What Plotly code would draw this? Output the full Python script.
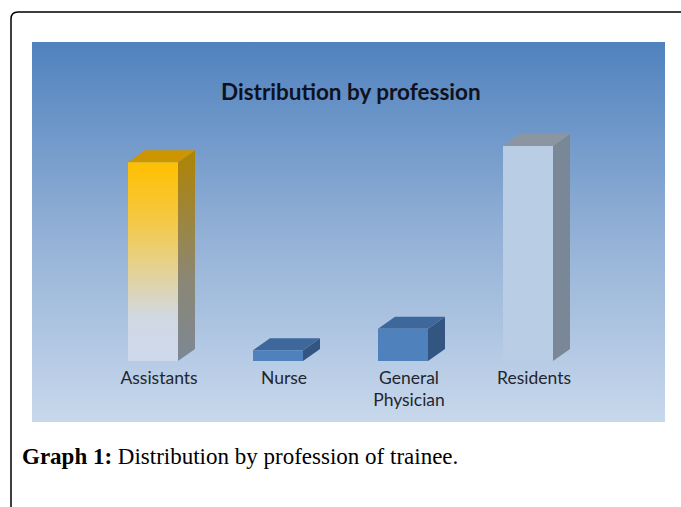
import plotly.graph_objects as go

# ---- data ----
categories = ["Assistants", "Nurse", "General Physician", "Residents"]
tick_labels = ["Assistants", "Nurse", "General<br>Physician", "Residents"]
values = [37, 2, 6, 40]

W, H = 681, 507
def px(x):  # pixel -> paper x
    return x / W
def py(y):  # pixel -> paper y
    return 1 - y / H

# panel
PX0, PX1, PY0, PY1 = 32, 665, 42, 422
BASE = 361
TOPPX = 100
unit_px = 5.375          # pixels per value unit
cat_px = 125.0           # pixels per category
tick0 = 159.0            # pixel of first tick
xr0 = (PX0 - tick0) / cat_px
xr1 = (PX1 - tick0) / cat_px
yr1 = (BASE - TOPPX) / unit_px

bw = 50 / cat_px          # bar width in x units
shift = -6 / cat_px       # front centre shift from tick
dx = 17 / cat_px
dy = 12 / unit_px

styles = [
    dict(front=[[0, "rgb(205,217,236)"], [0.22, "rgb(208,216,226)"], [0.45, "rgb(228,210,150)"],
                [0.7, "rgb(245,200,70)"], [1, "rgb(255,192,0)"]],
         side=[[0, "rgb(125,135,150)"], [0.4, "rgb(140,135,115)"], [1, "rgb(175,132,0)"]],
         top="rgb(205,150,0)"),
    dict(front="rgb(79,129,189)", side="rgb(50,85,130)", top="rgb(62,104,155)"),
    dict(front="rgb(79,129,189)", side="rgb(50,85,130)", top="rgb(62,104,155)"),
    dict(front="rgb(185,205,229)", side="rgb(122,135,150)", top="rgb(140,150,162)"),
]

fig = go.Figure()

# background gradient panel (subplot xy)
fig.add_trace(go.Scatter(
    x=[0, 1, 1, 0, 0], y=[0, 0, 1, 1, 0], mode="none", fill="toself",
    fillgradient=dict(type="vertical",
                      colorscale=[[0, "rgb(200,216,236)"], [0.5, "rgb(146,176,214)"], [1, "rgb(80,130,190)"]]),
    hoverinfo="skip", showlegend=False, xaxis="x", yaxis="y"))

def face(xs, ys, fill):
    kw = dict(x=xs, y=ys, mode="none", fill="toself", hoverinfo="skip",
              showlegend=False, xaxis="x2", yaxis="y2")
    if isinstance(fill, list):
        kw["fillgradient"] = dict(type="vertical", colorscale=fill)
    else:
        kw["fillcolor"] = fill
    fig.add_trace(go.Scatter(**kw))

for i, (cat, v) in enumerate(zip(categories, values)):
    st = styles[i]
    x0 = i + shift - bw / 2
    x1 = i + shift + bw / 2
    # side face
    face([x1, x1 + dx, x1 + dx, x1, x1], [0, dy, v + dy, v, 0], st["side"])
    # top face
    face([x0, x1, x1 + dx, x0 + dx, x0], [v, v, v + dy, v + dy, v], st["top"])
    # front face
    face([x0, x1, x1, x0, x0], [0, 0, v, v, 0], st["front"])

fig.update_layout(
    width=W, height=H,
    margin=dict(l=0, r=0, t=0, b=0),
    paper_bgcolor="white",
    plot_bgcolor="rgba(0,0,0,0)",
    showlegend=False,
    xaxis=dict(domain=[px(PX0), px(PX1)], range=[0, 1], visible=False, fixedrange=True),
    yaxis=dict(domain=[py(PY1), py(PY0)], range=[0, 1], visible=False, fixedrange=True),
    xaxis2=dict(domain=[px(PX0), px(PX1)], range=[xr0, xr1], anchor="y2",
                tickmode="array", tickvals=list(range(len(categories))), ticktext=tick_labels,
                showgrid=False, zeroline=False, showline=False, ticks="",
                ticklabelstandoff=4,
                tickfont=dict(family="Lato", size=17.5, color="rgb(35,38,45)")),
    yaxis2=dict(domain=[py(BASE), py(TOPPX)], range=[0, yr1], anchor="x2", visible=False,
                showgrid=False, zeroline=False),
)

# title
fig.add_annotation(xref="paper", yref="paper", x=px(351), y=py(91), text="<b>Distribution by profession</b>",
                   showarrow=False, xanchor="center", yanchor="middle",
                   font=dict(family="Lato", size=22.5, color="rgb(15,18,30)"))

# caption
fig.add_annotation(xref="paper", yref="paper", x=px(20), y=py(456), text="<b>Graph 1:</b> Distribution by profession of trainee.",
                   showarrow=False, xanchor="left", yanchor="middle",
                   font=dict(family="Liberation Serif", size=23, color="black"))

# outer frame with rounded corner
r = 7
path = (f"M {px(W + 5)},{py(12)} L {px(11 + r)},{py(12)} "
        f"Q {px(11)},{py(12)} {px(11)},{py(12 + r)} L {px(11)},{py(H + 5)}")
fig.add_shape(type="path", xref="paper", yref="paper", path=path,
              line=dict(color="black", width=1.5), layer="above")

fig.write_html("out.html", config={"displayModeBar": False},
               post_script="document.body.style.margin='0';document.body.style.overflow='hidden';")
